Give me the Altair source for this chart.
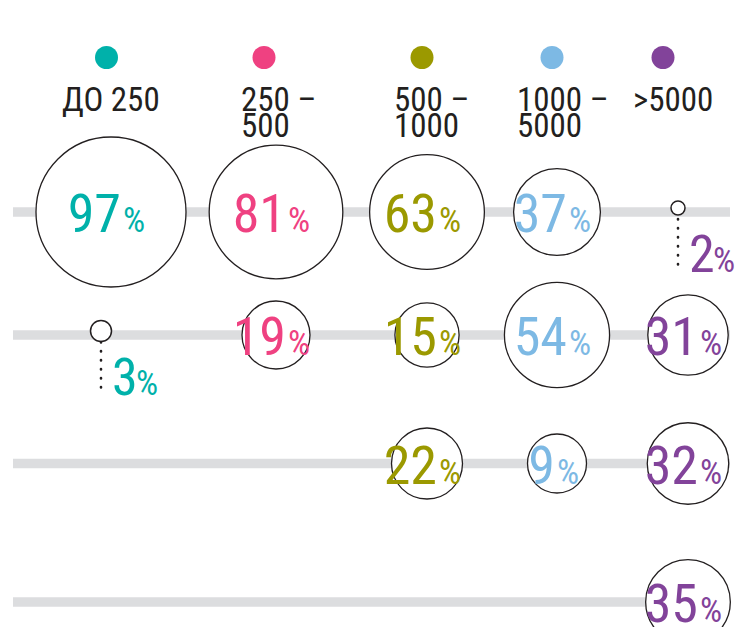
import altair as alt
import pandas as pd

# ---- data ----
group_labels = ["ДО 250", "250 –\n500", "500 –\n1000", "1000 –\n5000", ">5000"]
group_colors = ["#00b1aa", "#ef4181", "#9b9900", "#7db9e4", "#82439a"]
group_index = [1, 2, 3, 4, 5]

cell_group = [1, 1, 2, 2, 3, 3, 3, 4, 4, 4, 5, 5, 5, 5]
cell_row = [1, 2, 1, 2, 1, 2, 3, 1, 2, 3, 1, 2, 3, 4]
cell_value = [97, 3, 81, 19, 63, 15, 22, 37, 54, 9, 2, 31, 32, 35]

row_index = [1, 2, 3, 4]

cells = pd.DataFrame({"group": cell_group, "row": cell_row, "value": cell_value})
cells["label"] = [group_labels[g - 1] for g in cells["group"]]
cells["num"] = cells["value"].astype(str)
cells["pct"] = "%"

headers = pd.DataFrame({"group": group_index, "label": group_labels})
rows = pd.DataFrame({"row": row_index})

# ---- styles / scales ----
FONT = "Liberation Sans Narrow, Roboto Condensed, DejaVu Sans Condensed, sans-serif"
INK = "#231f20"

yscale = alt.Scale(domain=[-1, 0, 1, 2, 3, 4], range=[49.5, 103, 204, 327, 455.5, 594],
                   zero=False, nice=False)
xbody = alt.Scale(domain=[1, 2, 3, 4, 5], range=[103, 268, 419, 549, 680], zero=False, nice=False)
xdot = alt.Scale(domain=[1, 2, 3, 4, 5], range=[98.5, 256, 414, 544, 655], zero=False, nice=False)
xtext = alt.Scale(domain=[1, 2, 3, 4, 5], range=[54, 233, 386, 509, 625], zero=False, nice=False)
color = alt.Color("label:N", scale=alt.Scale(domain=group_labels, range=group_colors), legend=None)
big_size = alt.Scale(type="pow", exponent=1.5, domain=[9, 97], range=[3481, 22500], zero=False)
small_size = alt.Scale(type="pow", exponent=2, domain=[0, 3], range=[0, 441])

Y = lambda f: alt.Y(f, type="quantitative", scale=yscale, axis=None)
XB = alt.X("group:Q", scale=xbody, axis=None)

base = alt.Chart(cells)
big = base.transform_filter("datum.value >= 5")
small = base.transform_filter("datum.value < 5")

lines = alt.Chart(rows).mark_rule(color="#dcdddf", strokeWidth=9.5).encode(
    y=Y("row"), x=alt.value(5), x2=alt.value(722))

big_circles = big.mark_circle(fill="white", stroke=INK, strokeWidth=1.3, opacity=1,
                              fillOpacity=1, strokeOpacity=1).encode(
    x=XB, y=Y("row"), size=alt.Size("value:Q", scale=big_size, legend=None))

small_circles = small.mark_circle(fill="white", stroke=INK, strokeWidth=1.5, opacity=1,
                                  fillOpacity=1, strokeOpacity=1, xOffset=-10, yOffset=-4).encode(
    x=XB, y=Y("row"), size=alt.Size("value:Q", scale=small_size, legend=None))

dots = small.mark_rule(color=INK, strokeWidth=2.6, strokeDash=[0.5, 8.5], strokeCap="round",
                       xOffset=-10, yOffset=7, y2Offset=60).encode(
    x=XB, y=Y("row"), y2=alt.Y2("row"))

NUM_SIZE = 54
PCT_SIZE = 35

num2 = big.transform_filter("datum.value >= 10").mark_text(
    font=FONT, fontSize=NUM_SIZE, align="right", baseline="alphabetic", dx=10, dy=20).encode(
    x=XB, y=Y("row"), text="num:N", color=color)
pct2 = big.transform_filter("datum.value >= 10").mark_text(
    font=FONT, fontSize=PCT_SIZE, align="left", baseline="alphabetic", dx=12, dy=20).encode(
    x=XB, y=Y("row"), text="pct:N", color=color)
num1 = big.transform_filter("datum.value < 10").mark_text(
    font=FONT, fontSize=NUM_SIZE, align="right", baseline="alphabetic", dx=-2, dy=20).encode(
    x=XB, y=Y("row"), text="num:N", color=color)
pct1 = big.transform_filter("datum.value < 10").mark_text(
    font=FONT, fontSize=PCT_SIZE, align="left", baseline="alphabetic", dx=0, dy=20).encode(
    x=XB, y=Y("row"), text="pct:N", color=color)

snum = small.mark_text(font=FONT, fontSize=52, align="left", baseline="alphabetic",
                       dx=1, dy=60).encode(x=XB, y=Y("row"), text="num:N", color=color)
spct = small.mark_text(font=FONT, fontSize=PCT_SIZE, align="left", baseline="alphabetic",
                       dx=25, dy=60).encode(x=XB, y=Y("row"), text="pct:N", color=color)

hdr = alt.Chart(headers)
hdr_dots = hdr.mark_circle(size=529, opacity=1).encode(
    x=alt.X("group:Q", scale=xdot, axis=None),
    y=alt.YDatum(-1, type="quantitative", scale=yscale, axis=None),
    color=color)
hdr_text = hdr.mark_text(font=FONT, fontSize=33, align="left", baseline="alphabetic",
                         lineBreak="\n", lineHeight=26, color=INK).encode(
    x=alt.X("group:Q", scale=xtext, axis=None),
    y=alt.YDatum(0, type="quantitative", scale=yscale, axis=None),
    text="label:N")

chart = alt.layer(
    lines, big_circles, small_circles, dots, num2, pct2, num1, pct1, snum, spct, hdr_dots, hdr_text
).resolve_scale(x="independent", size="independent").properties(
    width=733, height=619, padding=0, autosize=alt.AutoSizeParams(type="none")
).configure_view(strokeWidth=0)

chart.save("out.html", embed_options={"renderer": "svg", "actions": False})
